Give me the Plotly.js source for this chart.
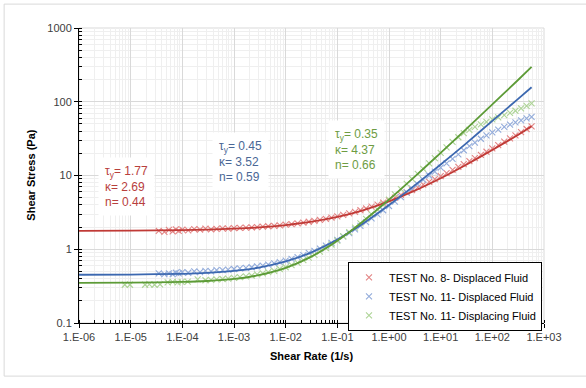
<!DOCTYPE html>
<html>
<head>
<meta charset="utf-8">
<script src="https://cdn.plot.ly/plotly-3.0.1.min.js"></script>
<style>html,body{margin:0;padding:0;background:#fff;}#chart{width:586px;height:388px;}</style>
</head>
<body>
<div id="chart"></div>
<script>
// Shear rate (1/s) for measured points of TEST No. 8 and TEST No. 11 displaced fluid
const rateA = [3.5e-5,4.5e-5,5.5e-5,6.5e-5,7.5e-5,8.5e-5,
  1e-4,1.3e-4,1.7e-4,2.2e-4,2.8e-4,3.6e-4,4.6e-4,6e-4,7.7e-4,
  1e-3,1.3e-3,1.7e-3,2.2e-3,2.8e-3,3.6e-3,4.6e-3,6e-3,7.7e-3,
  1e-2,1.3e-2,1.7e-2,2.2e-2,2.8e-2,3.6e-2,4.6e-2,6e-2,7.7e-2,
  0.1,0.13,0.17,0.22,0.28,0.36,0.46,0.6,0.77,
  1,1.3,1.7,2.2,2.8,3.6,4.6,6,7.7,
  10,13,17,22,28,36,46,60,77,
  100,130,170,220,280,360,460,575];
const stressTest8 = [1.78,1.72,1.83,1.75,1.86,1.77,
  1.85,1.80,1.88,1.84,1.90,1.86,1.89,1.92,1.90,
  1.93,1.95,1.96,1.98,2.00,2.02,2.05,2.08,2.11,
  2.15,2.19,2.24,2.30,2.36,2.42,2.50,2.58,2.68,
  2.80,2.92,3.06,3.22,3.38,3.57,3.78,4.03,4.30,
  4.60,5.00,5.45,5.90,6.35,6.90,7.50,8.20,8.95,
  9.80,10.8,11.9,13.1,14.3,15.7,17.2,19.1,21.0,
  23.3,25.8,28.7,31.8,35.0,38.8,42.7,46.5];
const stressTest11Displaced = [0.47,0.46,0.47,0.46,0.48,0.47,
  0.49,0.48,0.50,0.49,0.51,0.50,0.52,0.52,0.53,
  0.54,0.55,0.56,0.57,0.585,0.60,0.62,0.645,0.67,
  0.70,0.74,0.78,0.83,0.89,0.95,1.02,1.12,1.22,
  1.34,1.49,1.66,1.86,2.07,2.33,2.62,2.98,3.38,
  3.86,4.42,5.10,5.85,6.65,7.60,8.70,10.0,11.3,
  12.8,14.6,16.8,19.3,22.0,25.0,28.0,31.5,35.0,
  38.5,42.0,45.5,49.0,52.5,56.0,59.5,62.5];
// Shear rate (1/s) for measured points of TEST No. 11 displacing fluid
const rateB = [7.7e-6,9.7e-6,1.9e-5,2.3e-5,2.9e-5,3.7e-5,5.2e-5,6.5e-5,8.1e-5,9.7e-5,1.27e-4,1.98e-4,
  2.8e-4,3.6e-4,4.6e-4,6e-4,7.7e-4,
  1e-3,1.3e-3,1.7e-3,2.2e-3,2.8e-3,3.6e-3,4.6e-3,6e-3,7.7e-3,
  1e-2,1.3e-2,1.7e-2,2.2e-2,2.8e-2,3.6e-2,4.6e-2,6e-2,7.7e-2,
  0.1,0.13,0.17,0.22,0.28,0.36,0.46,0.6,0.77,
  1,1.3,1.7,2.2,2.8,3.6,4.6,6,7.7,
  10,13,17,22,28,36,46,60,77,
  100,130,170,220,280,360,460,575];
const stressTest11Displacing = [0.33,0.33,0.33,0.335,0.33,0.335,0.355,0.36,0.355,0.36,0.365,0.39,
  0.38,0.385,0.39,0.395,0.40,
  0.41,0.42,0.43,0.44,0.455,0.47,0.49,0.51,0.54,
  0.57,0.61,0.655,0.71,0.77,0.84,0.93,1.04,1.16,
  1.31,1.49,1.71,1.96,2.24,2.58,2.97,3.47,4.03,
  4.72,5.55,6.55,7.70,8.97,10.5,12.3,14.6,17.2,
  20.3,24.1,28.5,33.0,37.5,41.5,45.5,49.5,53.5,
  57.5,61.5,66.0,70.5,75.5,81.5,88.0,95.0];
// Fitted model curves
const rateFit = [1e-6,1e-5,1e-4,3e-4,1e-3,3e-3,1e-2,3e-2,0.1,0.3,1,3,10,30,100,300,575];
const fitTest8 = [1.78,1.79,1.82,1.85,1.90,1.98,2.13,2.35,2.75,3.35,4.46,6.13,9.18,13.8,22.2,34.9,46.7];
const fitTest11Displaced = [0.451,0.454,0.465,0.479,0.51,0.564,0.683,0.895,1.355,2.18,3.97,7.18,14.1,26.6,55,106,157];
const fitTest11Displacing = [0.3505,0.352,0.36,0.371,0.396,0.445,0.559,0.782,1.306,2.325,4.72,9.37,20.3,41.6,92,191,298];

const names = ['TEST No. 8- Displaced Fluid','TEST No. 11- Displaced Fluid','TEST No. 11- Displacing Fluid'];
const xTickVals = [1e-6,1e-5,1e-4,1e-3,1e-2,1e-1,1,10,100,1000];
const xTickText = ['1.E-06','1.E-05','1.E-04','1.E-03','1.E-02','1.E-01','1.E+00','1.E+01','1.E+02','1.E+03'];
const yTickVals = [0.1,1,10,100,1000];
const yTickText = ['0.1','1','10','100','1000'];
const paramText = [
  'τ<sub>y</sub>= 1.77<br>κ= 2.69<br>n= 0.44',
  'τ<sub>y</sub>= 0.45<br>κ= 3.52<br>n= 0.59',
  'τ<sub>y</sub>= 0.35<br>κ= 4.37<br>n= 0.66'];

const markerCol = ['#E38585','#93ACDB','#AED497'];
const lineCol = ['#C03A36','#3C68B0','#5D9B37'];
const textCol = ['#B8403D','#4A6796','#6E9C43'];

function mk(x, y, i) {
  return {x: x, y: y, type: 'scatter', mode: 'markers', name: names[i],
    marker: {symbol: 'x-thin', size: 6, color: markerCol[i], line: {width: 1.1, color: markerCol[i]}}};
}
function ln(x, y, i) {
  return {x: x, y: y, type: 'scatter', mode: 'lines', showlegend: false, hoverinfo: 'skip',
    line: {color: lineCol[i], width: 1.8, shape: 'spline', smoothing: 0.6}};
}

const traces = [
  mk(rateA, stressTest8, 0), mk(rateA, stressTest11Displaced, 1), mk(rateB, stressTest11Displacing, 2),
  ln(rateFit, fitTest8, 0), ln(rateFit, fitTest11Displaced, 1), ln(rateFit, fitTest11Displacing, 2)
];

const font = 'Liberation Sans, Arial, sans-serif';
const axisCommon = {
  type: 'log', showline: true, linecolor: '#000', linewidth: 1,
  ticks: 'outside', ticklen: 4, tickcolor: '#000',
  gridcolor: '#d9d9d9', gridwidth: 1, zeroline: false,
  tickfont: {family: font, size: 11, color: '#404040'},
  minor: {dtick: 'D1', showgrid: true, gridcolor: '#efefef', ticks: 'inside', ticklen: 3, tickcolor: '#000'}
};

const layout = {
  width: 586, height: 388,
  margin: {l: 79, r: 42, t: 28, b: 65},
  paper_bgcolor: '#fff', plot_bgcolor: '#fff',
  showlegend: true,
  xaxis: Object.assign({}, axisCommon, {range: [-6, 3], tickmode: 'array', tickvals: xTickVals, ticktext: xTickText}),
  yaxis: Object.assign({}, axisCommon, {range: [-1, 3], tickmode: 'array', tickvals: yTickVals, ticktext: yTickText}),
  legend: {x: 0.9957, xanchor: 'right', y: 0.207, yanchor: 'top', bgcolor: '#fff',
    bordercolor: '#000', borderwidth: 1, font: {family: font, size: 11, color: '#000'},
    tracegroupgap: 0, itemwidth: 30},
  shapes: [
    {type: 'rect', xref: 'paper', yref: 'paper', x0: 0, x1: 1, y0: 0, y1: 1, line: {color: '#d9d9d9', width: 1}, layer: 'below'},
    {type: 'rect', xref: 'paper', yref: 'paper', x0: -0.161, x1: 1.099, y0: -0.18, y1: 1.081, line: {color: '#d9d9d9', width: 1}, layer: 'below'}
  ],
  annotations: [
    {text: '<b>Shear Stress (Pa)</b>', xref: 'paper', yref: 'paper', x: -0.105, y: 0.5, xanchor: 'center', yanchor: 'middle',
      textangle: -90, showarrow: false, font: {family: font, size: 11, color: '#000'}},
    {text: '<b>Shear Rate (1/s)</b>', xref: 'paper', yref: 'paper', x: 0.5, y: -0.112, xanchor: 'center', yanchor: 'middle',
      showarrow: false, font: {family: font, size: 11, color: '#000'}},
    {text: paramText[0], xref: 'paper', yref: 'paper', x: (98 - 79) / 465, y: (323 - 187) / 295, xanchor: 'left', yanchor: 'middle',
      align: 'left', showarrow: false, bgcolor: '#fff', borderpad: 6, font: {family: font, size: 12, color: textCol[0]}},
    {text: paramText[1], xref: 'paper', yref: 'paper', x: (212 - 79) / 465, y: (323 - 161) / 295, xanchor: 'left', yanchor: 'middle',
      align: 'left', showarrow: false, bgcolor: '#fff', borderpad: 6, font: {family: font, size: 12, color: textCol[1]}},
    {text: paramText[2], xref: 'paper', yref: 'paper', x: (328 - 79) / 465, y: (323 - 149) / 295, xanchor: 'left', yanchor: 'middle',
      align: 'left', showarrow: false, bgcolor: '#fff', borderpad: 6, font: {family: font, size: 12, color: textCol[2]}}
  ]
};

Plotly.newPlot('chart', traces, layout, {displayModeBar: false, staticPlot: true});
</script>
</body>
</html>
